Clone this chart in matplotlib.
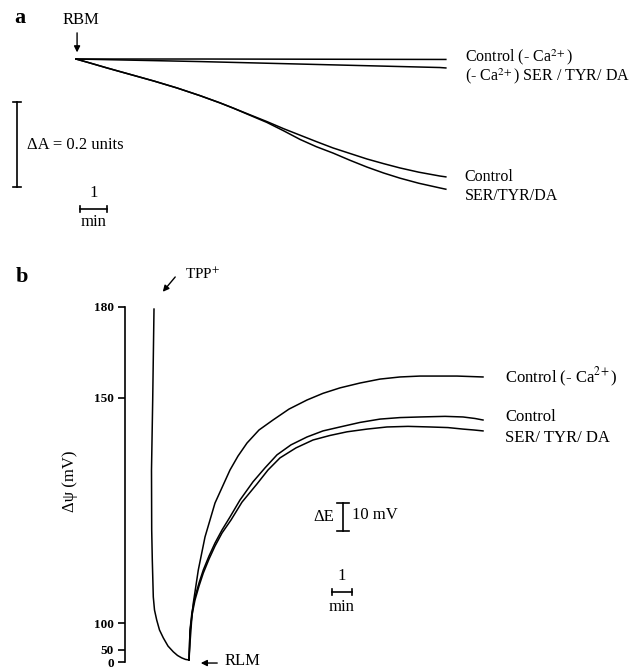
import matplotlib
matplotlib.use("Agg")
import matplotlib.pyplot as plt

plt.rcParams["font.family"] = "serif"
plt.rcParams["font.serif"] = ["Liberation Serif", "DejaVu Serif"]
plt.rcParams["mathtext.fontset"] = "stix"

# ---- panel a: absorbance (swelling) traces, time in min, dA relative to start
a_ctrl_noca_t = [0.0, 4.59, 13.48, 13.70]
a_ctrl_noca_A = [0.0, 0.0, -0.001, -0.001]
a_ser_noca_t = [0.0, 4.59, 13.48, 13.70]
a_ser_noca_A = [0.0, -0.006, -0.020, -0.021]
a_t = [0.0, 0.5, 1.15, 1.6, 2.11, 2.9, 3.74, 4.59, 5.33, 5.81, 6.4, 7.07,
       7.7, 8.30, 8.9, 9.52, 10.15, 10.78, 11.4, 12.00, 12.7, 13.48, 13.70]
a_ctrl_A = [0.0, -0.009, -0.021, -0.029, -0.038, -0.052, -0.068, -0.086, -0.103, -0.115, -0.130, -0.147,
            -0.164, -0.179, -0.194, -0.209, -0.222, -0.235, -0.246, -0.256, -0.266, -0.275, -0.277]
a_ser_A = [0.0, -0.009, -0.021, -0.029, -0.038, -0.052, -0.068, -0.086, -0.103, -0.115, -0.131, -0.149,
           -0.169, -0.189, -0.206, -0.221, -0.238, -0.254, -0.268, -0.280, -0.292, -0.303, -0.306]
a_labels = ["Control (- Ca$^{2\\!+}$)", "(- Ca$^{2\\!+}$) SER / TYR/ DA", "Control", "SER/TYR/DA"]
a_label_y = [0.005, -0.040, -0.277, -0.322]

# ---- panel b: membrane potential traces, time in min, mV
b_tpp_t = [0.0, -0.065, -0.125, -0.115, -0.085, -0.035, 0.025, 0.135, 0.275, 0.465, 0.7,
           0.965, 1.175, 1.385, 1.575, 1.75]
b_tpp_mV = [179.3, 149.3, 126.2, 106.4, 96.5, 84.3, 80.0, 76.7, 73.4, 70.8, 68.1,
            66.2, 65.0, 64.2, 63.7, 63.5]
b_noca_t = [1.75, 1.8, 1.875, 1.965, 2.215, 2.55, 3.05, 3.8, 4.2, 4.65, 5.25, 5.95, 6.75,
            7.65, 8.45, 9.3, 10.3, 11.3, 12.3, 13.3, 15.15, 16.45]
b_noca_mV = [63.5, 69.1, 76.0, 82.3, 93.2, 104.1, 115.3, 126.2, 130.8, 135.1, 139.4, 142.7, 146.3,
             149.3, 151.5, 153.3, 154.9, 156.2, 156.9, 157.2, 157.2, 156.9]
b_ctrl_t = [1.75, 1.8, 1.9, 2.05, 2.25, 2.465, 2.75, 3.05, 3.4, 3.8, 4.3, 4.95, 5.55, 6.15,
            6.85, 7.65, 8.45, 9.3, 10.3, 11.3, 12.3, 13.3, 14.55, 15.45, 16.05, 16.45]
b_ctrl_mV = [63.5, 73.4, 79.4, 84.3, 88.9, 93.2, 97.8, 102.1, 106.4, 110.7, 116.3, 122.3, 126.9, 131.2,
             134.5, 137.1, 139.1, 140.4, 141.9, 143.0, 143.5, 143.7, 143.9, 143.7, 143.2, 142.7]
b_ser_t = [1.75, 1.8, 1.9, 2.05, 2.25, 2.465, 2.75, 3.05, 3.4, 3.85, 4.4, 5.15, 5.7, 6.3,
           7.1, 7.95, 8.8, 9.65, 10.65, 11.65, 12.7, 13.8, 14.7, 15.45, 16.0, 16.45]
b_ser_mV = [63.5, 72.8, 78.4, 83.3, 87.9, 92.2, 96.8, 101.1, 105.4, 109.7, 115.6, 121.6, 126.2, 130.2,
            133.5, 136.1, 137.6, 138.8, 139.7, 140.4, 140.6, 140.4, 140.2, 139.7, 139.4, 139.1]
b_tick_pos = [180.0, 150.0, 75.7, 66.8, 62.8]
b_tick_labels = ["180", "150", "100", "50", "0"]
b_labels = ["Control (- Ca$^{2\\!+}$)", "Control", "SER/ TYR/ DA"]
b_label_y = [156.9, 143.7, 136.8]

W, H = 644, 670
fig = plt.figure(figsize=(W / 100, H / 100), dpi=100)
lw = 1.1

# ===== panel a =====
axa = fig.add_axes([0, 1 - 235 / H, 1, 235 / H])
axa.set_xlim(-2.815, 21.04)
axa.set_ylim(-0.4136, 0.1387)
axa.axis("off")

axa.plot(a_ctrl_noca_t, a_ctrl_noca_A, color="k", lw=lw)
axa.plot(a_ser_noca_t, a_ser_noca_A, color="k", lw=lw)
axa.plot(a_t, a_ctrl_A, color="k", lw=lw)
axa.plot(a_t, a_ser_A, color="k", lw=lw)

for lab, y in zip(a_labels, a_label_y):
    axa.text(14.4, y, lab, fontsize=11.5, ha="left", va="center")

# RBM arrow
axa.annotate("", xy=(0.04, 0.009), xytext=(0.04, 0.068),
             arrowprops=dict(arrowstyle="-|>", color="k", lw=1, mutation_scale=9))
axa.text(0.19, 0.092, "RBM", fontsize=12, ha="center", va="center")

# dA scale bar
axa.plot([-2.19, -2.19], [-0.101, -0.301], color="k", lw=1.2)
axa.plot([-2.34, -2.04], [-0.101, -0.101], color="k", lw=1.2)
axa.plot([-2.34, -2.04], [-0.301, -0.301], color="k", lw=1.2)
axa.text(-1.81, -0.202, "ΔA = 0.2 units", fontsize=12, ha="left", va="center")

# time scale bar
axa.plot([0.15, 1.15], [-0.3525, -0.3525], color="k", lw=1.2)
axa.plot([0.15, 0.15], [-0.3465, -0.3585], color="k", lw=1.2)
axa.plot([1.15, 1.15], [-0.3465, -0.3585], color="k", lw=1.2)
axa.text(0.65, -0.315, "1", fontsize=12, ha="center", va="center")
axa.text(0.65, -0.383, "min", fontsize=12, ha="center", va="center")

# ===== panel b =====
axb = fig.add_axes([0, 0, 1, 430 / H])
axb.set_xlim(-7.7, 24.5)
axb.set_ylim(60.2, 202.1)
axb.patch.set_alpha(0)
for s in ["top", "right", "bottom"]:
    axb.spines[s].set_visible(False)
axb.spines["left"].set_position(("data", -1.45))
axb.spines["left"].set_bounds(62.8, 180.0)
axb.spines["left"].set_linewidth(1.2)
axb.set_xticks([])
axb.set_yticks(b_tick_pos)
axb.set_yticklabels(b_tick_labels, fontweight="bold", fontsize=9.5)
axb.tick_params(axis="y", direction="out", length=5, width=1.2, pad=3)
axb.set_yticks([180.0, 62.8], minor=True)
axb.tick_params(axis="y", which="minor", direction="in", length=2.5, width=1.2)

axb.plot(b_tpp_t, b_tpp_mV, color="k", lw=lw)
axb.plot(b_noca_t, b_noca_mV, color="k", lw=lw)
axb.plot(b_ctrl_t, b_ctrl_mV, color="k", lw=lw)
axb.plot(b_ser_t, b_ser_mV, color="k", lw=lw)

for lab, y in zip(b_labels, b_label_y):
    axb.text(17.55, y, lab, fontsize=12, ha="left", va="center")

axb.text(-4.2, 122.6, "Δψ (mV)", fontsize=12, rotation=90, ha="center", va="center")

# TPP+ arrow
axb.annotate("", xy=(0.35, 184.3), xytext=(1.15, 190.6),
             arrowprops=dict(arrowstyle="-|>", color="k", lw=1, mutation_scale=9))
axb.text(1.55, 190.8, "TPP$^{+}$", fontsize=11, ha="left", va="center")

# RLM arrow
axb.annotate("", xy=(2.2, 62.5), xytext=(3.3, 62.5),
             arrowprops=dict(arrowstyle="-|>", color="k", lw=1, mutation_scale=9))
axb.text(3.55, 63.3, "RLM", fontsize=12, ha="left", va="center")

# dE scale bar
axb.plot([9.45, 9.45], [115.3, 106.0], color="k", lw=1.2)
axb.plot([9.15, 9.75], [115.3, 115.3], color="k", lw=1.2)
axb.plot([9.15, 9.75], [106.0, 106.0], color="k", lw=1.2)
axb.text(9.0, 110.7, "ΔE", fontsize=12, ha="right", va="center")
axb.text(9.9, 111.2, "10 mV", fontsize=12, ha="left", va="center")

# time scale bar
axb.plot([8.9, 9.9], [85.95, 85.95], color="k", lw=1.2)
axb.plot([8.9, 8.9], [85.1, 86.8], color="k", lw=1.2)
axb.plot([9.9, 9.9], [85.1, 86.8], color="k", lw=1.2)
axb.text(9.4, 91.2, "1", fontsize=12, ha="center", va="center")
axb.text(9.4, 81.0, "min", fontsize=12, ha="center", va="center")

# panel letters
fig.text(20 / W, 1 - 18 / H, "a", fontsize=16, fontweight="bold", ha="center", va="center")
fig.text(22 / W, 1 - 277 / H, "b", fontsize=16, fontweight="bold", ha="center", va="center")

fig.savefig("out.png", dpi=100)
